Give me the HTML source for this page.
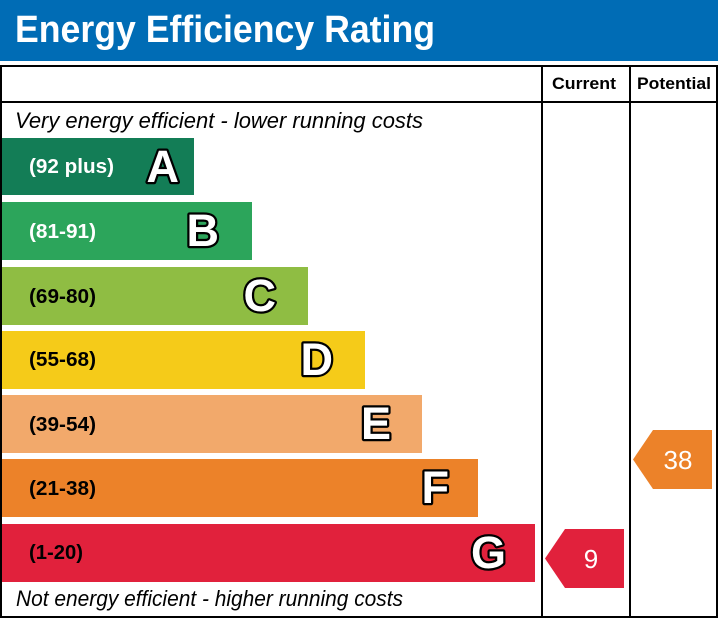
<!DOCTYPE html>
<html><head><meta charset="utf-8"><style>
html,body{margin:0;padding:0;background:#fff;}
svg{display:block;}
text{font-family:"Liberation Sans",Arial,sans-serif;}
</style></head><body>
<svg width="718" height="619" viewBox="0 0 718 619" xmlns="http://www.w3.org/2000/svg">
<rect x="0" y="0" width="718" height="61" fill="#006cb5"/>
<text x="15" y="42" font-size="38" font-weight="bold" fill="#fff" textLength="420" lengthAdjust="spacingAndGlyphs">Energy Efficiency Rating</text>
<!-- frame -->
<rect x="1" y="66" width="716" height="551" fill="none" stroke="#000" stroke-width="2"/>
<line x1="0" y1="102" x2="718" y2="102" stroke="#000" stroke-width="2"/>
<line x1="542" y1="66" x2="542" y2="618" stroke="#000" stroke-width="2"/>
<line x1="630" y1="66" x2="630" y2="618" stroke="#000" stroke-width="2"/>
<text x="552" y="89" font-size="17" font-weight="bold" fill="#000" textLength="64" lengthAdjust="spacingAndGlyphs">Current</text>
<text x="637" y="89" font-size="17" font-weight="bold" fill="#000" textLength="74" lengthAdjust="spacingAndGlyphs">Potential</text>
<text x="15" y="128" font-size="22" font-style="italic" fill="#000" textLength="408" lengthAdjust="spacingAndGlyphs">Very energy efficient - lower running costs</text>
<text x="16" y="606" font-size="22" font-style="italic" fill="#000" textLength="387" lengthAdjust="spacingAndGlyphs">Not energy efficient - higher running costs</text>
<!-- bars -->
<rect x="2" y="138" width="192" height="57" fill="#137d56"/>
<rect x="2" y="202" width="250" height="58" fill="#2ca55b"/>
<rect x="2" y="267" width="306" height="58" fill="#8fbd43"/>
<rect x="2" y="331" width="363" height="58" fill="#f5cb19"/>
<rect x="2" y="395" width="420" height="58" fill="#f2a96b"/>
<rect x="2" y="459" width="476" height="58" fill="#ec8229"/>
<rect x="2" y="524" width="533" height="58" fill="#e1213c"/>
<g font-size="20" font-weight="bold">
<text x="29" y="173" fill="#fff" textLength="85" lengthAdjust="spacingAndGlyphs">(92 plus)</text>
<text x="29" y="238" fill="#fff" textLength="67" lengthAdjust="spacingAndGlyphs">(81-91)</text>
<text x="29" y="303" fill="#000" textLength="67" lengthAdjust="spacingAndGlyphs">(69-80)</text>
<text x="29" y="366" fill="#000" textLength="67" lengthAdjust="spacingAndGlyphs">(55-68)</text>
<text x="29" y="431" fill="#000" textLength="67" lengthAdjust="spacingAndGlyphs">(39-54)</text>
<text x="29" y="495" fill="#000" textLength="67" lengthAdjust="spacingAndGlyphs">(21-38)</text>
<text x="29" y="559" fill="#000" textLength="54" lengthAdjust="spacingAndGlyphs">(1-20)</text>
</g>
<g font-size="45" font-weight="bold" fill="#fff" stroke="#000" stroke-width="4.5" paint-order="stroke" stroke-linejoin="round" text-anchor="end">
<text x="179" y="182">A</text>
<text x="219" y="246">B</text>
<text x="276" y="311">C</text>
<text x="333" y="375">D</text>
<text x="391" y="439">E</text>
<text x="449" y="503">F</text>
<text x="506" y="568">G</text>
</g>
<!-- arrows -->
<polygon points="565,529 624,529 624,588 565,588 545,558.5" fill="#e1213c"/>
<text x="591" y="568" font-size="26" fill="#fff" text-anchor="middle">9</text>
<polygon points="653,430 712,430 712,489 653,489 633,459.5" fill="#ec8229"/>
<text x="678" y="469" font-size="26" fill="#fff" text-anchor="middle">38</text>
</svg>
</body></html>
